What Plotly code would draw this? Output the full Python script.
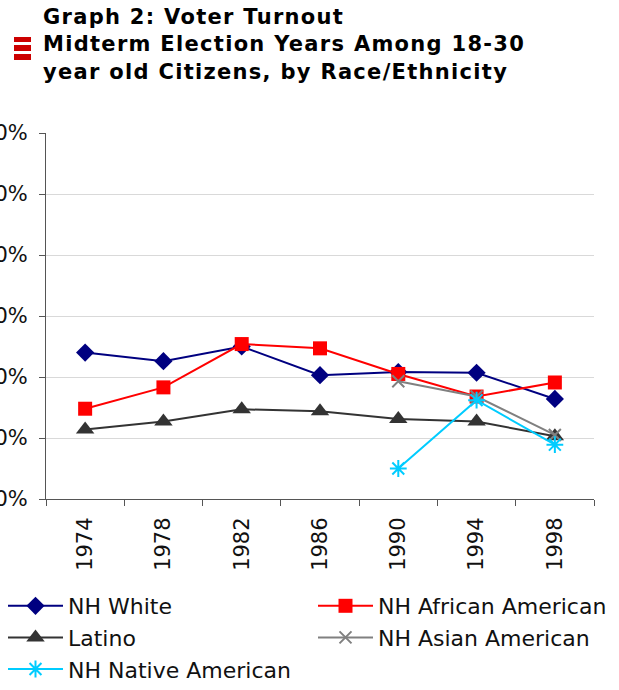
import plotly.graph_objects as go

# Midterm election years
years = ["1974", "1978", "1982", "1986", "1990", "1994", "1998"]

# Turnout shares among 18-30 year old citizens
nh_white = [0.240, 0.226, 0.250, 0.203, 0.208, 0.207, 0.164]
nh_african_american = [0.148, 0.183, 0.254, 0.247, 0.205, 0.168, 0.191]
latino = [0.114, 0.127, 0.147, 0.144, 0.131, 0.127, 0.103]
nh_asian_american = [None, None, None, None, 0.193, 0.168, 0.105]
nh_native_american = [None, None, None, None, 0.050, 0.162, 0.089]

y_ticks = [0.0, 0.1, 0.2, 0.3, 0.4, 0.5, 0.6]

W, H = 619, 690
L, R, T, B = 46, 25, 133, 191
PW, PH = W - L - R, H - T - B

FONT = "DejaVu Sans"

# name, values, colour, marker symbol, marker size, marker line width, legend column
series = [
    ("NH White", nh_white, "#000080", "diamond", 14, 0, "legend"),
    ("NH African American", nh_african_american, "#ff0000", "square", 14, 0, "legend2"),
    ("Latino", latino, "#333333", "triangle-up", 16, 0, "legend"),
    ("NH Asian American", nh_asian_american, "#808080", "x-thin-open", 12, 2, "legend2"),
    ("NH Native American", nh_native_american, "#00ccff", "asterisk-open", 14, 2, "legend"),
]

fig = go.Figure()
for name, vals, color, sym, size, mlw, leg in series:
    fig.add_trace(go.Scatter(
        x=years, y=vals, name=name, mode="lines+markers",
        line=dict(color=color, width=2),
        marker=dict(symbol=sym, size=size, color=color,
                    line=dict(color=color, width=mlw)),
        connectgaps=False, legend=leg,
    ))


def px_x(p):
    return (p - L) / PW


def px_y(p):
    return (H - B - p) / PH


# Red bar icon beside the heading
shapes = []
for y0, y1 in [(37, 42), (45, 51), (54, 60)]:
    shapes.append(dict(type="rect", xref="paper", yref="paper",
                       x0=px_x(14), x1=px_x(31), y0=px_y(y1), y1=px_y(y0),
                       fillcolor="#cc0000", line=dict(width=0), layer="above"))

heading = ('<span style="letter-spacing:1.3px">Graph 2: Voter Turnout<br>'
           'Midterm Election Years Among 18-30<br>'
           'year old Citizens, by Race/Ethnicity</span>')

fig.add_annotation(
    text=heading, xref="paper", yref="paper",
    x=px_x(41), y=px_y(3), xanchor="left", yanchor="top",
    align="left", showarrow=False,
    font=dict(family=FONT, size=21, color="#000000", weight="bold"),
)

legend_style = dict(
    orientation="v",
    xref="container", yref="container",
    xanchor="left", yanchor="top",
    y=1 - 585 / H,
    itemwidth=55,
    tracegroupgap=0,
    font=dict(family=FONT, size=22, color="#111111"),
    bgcolor="rgba(0,0,0,0)",
    traceorder="normal",
)

fig.update_layout(
    width=W, height=H,
    margin=dict(l=L, r=R, t=T, b=B, autoexpand=False),
    paper_bgcolor="white", plot_bgcolor="white",
    font=dict(family=FONT, size=21, color="#111111"),
    shapes=shapes,
    showlegend=True,
    legend=dict(legend_style, x=3 / W),
    legend2=dict(legend_style, x=313 / W),
    xaxis=dict(
        type="category", range=[-0.5, 6.5],
        showline=True, linecolor="#555555", linewidth=1,
        ticks="outside", ticklen=6, tickcolor="#555555", tickson="boundaries",
        showgrid=False, tickangle=-90, ticklabelstandoff=9,
        tickfont=dict(family=FONT, size=21, color="#111111"),
        automargin=False, fixedrange=True,
    ),
    yaxis=dict(
        range=[0, 0.6], tickvals=y_ticks, tickformat=".0%",
        showline=True, linecolor="#555555", linewidth=1,
        ticks="outside", ticklen=6, tickcolor="#555555",
        showgrid=True, gridcolor="#d9d9d9", gridwidth=1,
        zeroline=False, ticklabelstandoff=7,
        tickfont=dict(family=FONT, size=21, color="#111111"),
        automargin=False, fixedrange=True,
    ),
)

fig.write_html("out.html")
